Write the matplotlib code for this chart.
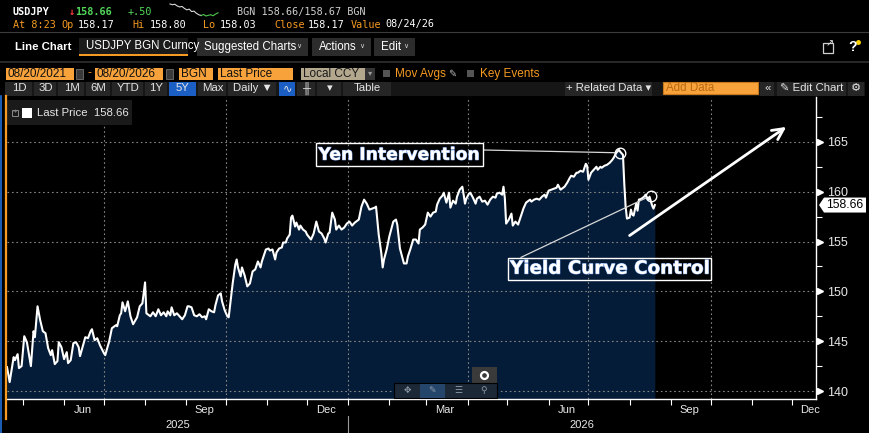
import matplotlib
matplotlib.use("Agg")
import matplotlib.pyplot as plt
import matplotlib.dates as mdates
import matplotlib.patches as mpatches
import matplotlib.transforms as mtransforms
import matplotlib.patheffects as pe
import pandas as pd

# USDJPY BGN Curncy, last price
dates = [
    "2025-04-19", "2025-04-21", "2025-04-24", "2025-04-25", "2025-04-27", "2025-04-28", "2025-04-30",
    "2025-05-02", "2025-05-04", "2025-05-07", "2025-05-09", "2025-05-10", "2025-05-12", "2025-05-14",
    "2025-05-16", "2025-05-18", "2025-05-20", "2025-05-22", "2025-05-23", "2025-05-25", "2025-05-27",
    "2025-05-28", "2025-05-30", "2025-06-01", "2025-06-03", "2025-06-04", "2025-06-06", "2025-06-08",
    "2025-06-10", "2025-06-12", "2025-06-13", "2025-06-17", "2025-06-19", "2025-06-21", "2025-06-22",
    "2025-06-24", "2025-06-26", "2025-06-28", "2025-07-01", "2025-07-02", "2025-07-05", "2025-07-07",
    "2025-07-10", "2025-07-11", "2025-07-13", "2025-07-14", "2025-07-15", "2025-07-17", "2025-07-19",
    "2025-07-21", "2025-07-23", "2025-07-26", "2025-07-28", "2025-07-30", "2025-08-01", "2025-08-02",
    "2025-08-05", "2025-08-07", "2025-08-09", "2025-08-11", "2025-08-13", "2025-08-15", "2025-08-17",
    "2025-08-18", "2025-08-20", "2025-08-21", "2025-08-23", "2025-08-25", "2025-08-27", "2025-08-29",
    "2025-08-31", "2025-09-02", "2025-09-03", "2025-09-05", "2025-09-07", "2025-09-09", "2025-09-11",
    "2025-09-13", "2025-09-15", "2025-09-16", "2025-09-18", "2025-09-20", "2025-09-22", "2025-09-23",
    "2025-09-25", "2025-09-27", "2025-09-28", "2025-09-30", "2025-10-02", "2025-10-03", "2025-10-06",
    "2025-10-08", "2025-10-09", "2025-10-10", "2025-10-12", "2025-10-13", "2025-10-15", "2025-10-17",
    "2025-10-19", "2025-10-21", "2025-10-23", "2025-10-25", "2025-10-27", "2025-10-28", "2025-10-31",
    "2025-11-02", "2025-11-03", "2025-11-05", "2025-11-07", "2025-11-08", "2025-11-10", "2025-11-12",
    "2025-11-13", "2025-11-15", "2025-11-16", "2025-11-18", "2025-11-19", "2025-11-20", "2025-11-22",
    "2025-11-23", "2025-11-25", "2025-11-26", "2025-11-28", "2025-11-30", "2025-12-01", "2025-12-04",
    "2025-12-06", "2025-12-08", "2025-12-10", "2025-12-12", "2025-12-14", "2025-12-15", "2025-12-17",
    "2025-12-18", "2025-12-20", "2025-12-22", "2025-12-23", "2025-12-25", "2025-12-27", "2025-12-29",
    "2025-12-31", "2026-01-02", "2026-01-04", "2026-01-06", "2026-01-08", "2026-01-09", "2026-01-11",
    "2026-01-13", "2026-01-15", "2026-01-17", "2026-01-19", "2026-01-21", "2026-01-22", "2026-01-24",
    "2026-01-26", "2026-01-27", "2026-01-28", "2026-01-30", "2026-02-01", "2026-02-02", "2026-02-04",
    "2026-02-06", "2026-02-07", "2026-02-09", "2026-02-11", "2026-02-12", "2026-02-14", "2026-02-15",
    "2026-02-17", "2026-02-19", "2026-02-21", "2026-02-23", "2026-02-24", "2026-02-26", "2026-02-28",
    "2026-03-02", "2026-03-04", "2026-03-06", "2026-03-08", "2026-03-09", "2026-03-11", "2026-03-13",
    "2026-03-14", "2026-03-16", "2026-03-18", "2026-03-19", "2026-03-21", "2026-03-23", "2026-03-24",
    "2026-03-26", "2026-03-28", "2026-03-29", "2026-03-30", "2026-03-31", "2026-04-02", "2026-04-03",
    "2026-04-05", "2026-04-07", "2026-04-08", "2026-04-10", "2026-04-12", "2026-04-14", "2026-04-16",
    "2026-04-18", "2026-04-20", "2026-04-22", "2026-04-23", "2026-04-25", "2026-04-27", "2026-04-28",
    "2026-04-29", "2026-04-30", "2026-05-02", "2026-05-04", "2026-05-05", "2026-05-07", "2026-05-09",
    "2026-05-11", "2026-05-13", "2026-05-15", "2026-05-18", "2026-05-19", "2026-05-21", "2026-05-23",
    "2026-05-25", "2026-05-27", "2026-05-29", "2026-05-30", "2026-06-01", "2026-06-03", "2026-06-05",
    "2026-06-07", "2026-06-08", "2026-06-10", "2026-06-12", "2026-06-13", "2026-06-15", "2026-06-17",
    "2026-06-18", "2026-06-20", "2026-06-22", "2026-06-23", "2026-06-25", "2026-06-27", "2026-06-29",
    "2026-06-30", "2026-07-01", "2026-07-03", "2026-07-05", "2026-07-07", "2026-07-08", "2026-07-10",
    "2026-07-11", "2026-07-13", "2026-07-15", "2026-07-17", "2026-07-19", "2026-07-20", "2026-07-22",
    "2026-07-24", "2026-07-25", "2026-07-27", "2026-07-28", "2026-07-29", "2026-07-30", "2026-08-01",
    "2026-08-02", "2026-08-03", "2026-08-04", "2026-08-06", "2026-08-07", "2026-08-08", "2026-08-10",
    "2026-08-12", "2026-08-13", "2026-08-15", "2026-08-16", "2026-08-18", "2026-08-19", "2026-08-20",
]
prices = [
    142.4, 140.9, 143.4, 143.1, 143.7, 142.3, 142.5,
    145.5, 144.9, 142.5, 146.0, 145.4, 148.5, 147.1,
    146.0, 145.8, 144.3, 143.6, 144.1, 142.7, 143.0,
    144.9, 144.4, 143.2, 143.9, 142.8, 143.1, 144.8,
    144.9, 144.4, 143.5, 145.4, 145.3, 146.0, 146.2,
    145.1, 145.3, 144.6, 143.8, 143.6, 145.0, 146.3,
    146.6, 146.5, 147.6, 147.8, 148.9, 148.0, 149.0,
    147.5, 146.7, 147.4, 148.5, 148.8, 150.9, 147.8,
    147.5, 147.9, 147.5, 148.2, 147.6, 147.9, 147.5,
    148.0, 147.6, 148.4, 147.6, 147.8, 147.5, 147.2,
    147.6, 148.5, 148.5, 148.4, 147.6, 147.5, 147.7,
    147.4, 147.5, 147.2, 148.2, 148.0, 147.9, 148.6,
    149.6, 149.8, 149.0, 148.1, 147.5, 147.4, 150.8,
    152.7, 153.2, 152.4, 151.5, 152.4, 151.6, 150.5,
    150.8, 152.0, 152.2, 153.0, 152.4, 153.0, 154.2,
    154.3, 154.1, 154.2, 153.2, 153.9, 154.3, 154.4,
    154.9, 154.9, 155.3, 155.7, 157.4, 157.6, 156.5,
    156.9, 156.2, 156.6, 156.2, 156.0, 155.7, 155.2,
    155.8, 157.0, 156.0, 155.8, 155.3, 154.9, 155.8,
    155.9, 157.9, 157.2, 156.2, 156.6, 156.2, 156.4,
    156.8, 157.0, 156.6, 156.9, 157.1, 157.2, 158.5,
    159.2, 158.8, 158.2, 158.3, 158.4, 158.5, 155.7,
    153.8, 152.4, 153.2, 154.2, 155.5, 156.0, 157.0,
    157.2, 156.7, 154.3, 153.3, 152.8, 152.8, 153.5,
    154.3, 155.2, 155.2, 154.8, 156.2, 156.4, 156.7,
    157.9, 157.5, 157.9, 158.0, 158.7, 159.3, 159.6,
    159.9, 158.9, 159.9, 158.4, 159.1, 158.8, 159.5,
    160.2, 160.5, 159.7, 158.8, 159.3, 159.8, 159.9,
    159.4, 158.8, 159.3, 159.5, 159.0, 159.1, 158.7,
    159.2, 159.5, 159.4, 159.8, 159.9, 159.7, 160.5,
    159.4, 156.8, 157.2, 157.8, 156.6, 157.0, 156.7,
    157.5, 158.3, 158.9, 159.2, 159.0, 159.2, 159.3,
    159.2, 159.5, 159.7, 159.4, 160.1, 160.2, 160.3,
    160.4, 160.7, 160.2, 160.4, 160.5, 160.9, 161.4,
    161.6, 161.5, 161.9, 161.9, 162.1, 162.0, 162.8,
    162.6, 161.2, 161.9, 162.2, 162.5, 162.2, 162.5,
    162.4, 162.6, 162.7, 162.9, 163.2, 163.4, 163.9,
    164.2, 164.0, 163.7, 160.8, 158.5, 157.3, 157.4,
    158.2, 157.7, 157.6, 158.8, 158.1, 159.2, 159.3,
    159.5, 159.7, 159.2, 159.5, 158.6, 158.3, 158.66,
]
last_price = 158.66

price_ticks = [140, 145, 150, 155, 160, 165]
month_labels = ["Jun", "Sep", "Dec", "Mar", "Jun", "Sep", "Dec"]
label_days = ["2025-06-15", "2025-09-15", "2025-12-15", "2026-03-15",
              "2026-06-15", "2026-09-15", "2026-12-15"]
quarter_starts = ["2025-07-01", "2025-10-01", "2026-01-01", "2026-04-01",
                  "2026-07-01", "2026-10-01"]
years = ["2025", "2026"]

events = ["Yen Intervention", "Yield Curve Control"]
event_dates = ["2026-07-25", "2026-08-17"]
event_prices = [163.9, 159.6]

# intraday sparkline in the header (relative levels)
spark = [10.0, 9.7, 9.9, 9.2, 8.8, 9.0, 8.2, 7.6, 7.9, 6.9, 7.1, 6.2, 5.6,
         5.3, 5.7, 5.1, 5.4, 5.6, 5.2, 5.9, 6.4]
spark_split = 13

ORANGE = "#f59a23"
NAVY = "#041c38"
GRID = "#858585"
UI = ["Liberation Sans", "DejaVu Sans"]
MONO = ["DejaVu Sans Mono"]

x = pd.to_datetime(dates)
x_left = pd.Timestamp("2025-04-19")
x_right = pd.Timestamp("2026-12-19 10:00")
y_low, y_high = 139.2, 169.5

fig = plt.figure(figsize=(8.7, 4.33), dpi=100, facecolor="black")
ax = fig.add_axes([7 / 870, 34 / 433, 809 / 870, 302 / 433], facecolor="black", zorder=2)
ax.set_xlim(x_left, x_right)
ax.set_ylim(y_low, y_high)

ax.fill_between(x, prices, y_low, color=NAVY, lw=0, zorder=1)
ax.plot(x, prices, color="white", lw=1.5, zorder=4, solid_joinstyle="round")

for p in price_ticks:
    ax.axhline(p, color=GRID, lw=0.8, ls=(0, (1.5, 2.5)), zorder=2)
for q in quarter_starts:
    ax.axvline(pd.Timestamp(q), color=GRID, lw=0.8, ls=(0, (1.5, 2.5)), zorder=2)

# axes styling
for s in ["top", "left"]:
    ax.spines[s].set_visible(False)
for s in ["bottom", "right"]:
    ax.spines[s].set_color("white")
    ax.spines[s].set_linewidth(1.0)

ax.yaxis.tick_right()
ax.set_yticks(price_ticks)
ax.set_yticks([p + 2.5 for p in price_ticks[:-1]] + [167.5], minor=True)
ax.tick_params(axis="y", which="major", length=0, pad=8, labelsize=9, labelcolor="#e8e8e8")
ax.tick_params(axis="y", which="minor", length=4, width=0.8, color="white", direction="out")
for t in ax.get_yticklabels():
    t.set_family(UI)

ax.set_xticks(pd.to_datetime(label_days))
ax.set_xticklabels(month_labels)
ax.set_xticks(pd.date_range("2025-05-01", "2026-12-01", freq="MS"), minor=True)
ax.tick_params(axis="x", which="major", length=0, pad=4.5, labelsize=8, labelcolor="#e8e8e8")
ax.tick_params(axis="x", which="minor", length=4, width=0.8, color="white", direction="out")
for t in ax.get_xticklabels():
    t.set_family(UI)

# triangles on the major price ticks
tri = mtransforms.offset_copy(mtransforms.blended_transform_factory(ax.transAxes, ax.transData),
                              fig=fig, x=2.6, units="points")
ax.plot([1] * len(price_ticks), price_ticks, ls="none", marker=">", ms=4.2,
        color="white", transform=tri, clip_on=False)

# year row under the month labels
jan1 = pd.Timestamp("2026-01-01")
ytr = mtransforms.blended_transform_factory(ax.transData, ax.transAxes)
year_mid = [x_left + (jan1 - x_left) / 2, jan1 + (x_right - jan1) / 2]
for yr, xm in zip(years, year_mid):
    ax.text(xm, -0.086, yr, transform=ytr, ha="center", va="center", fontsize=8,
            color="#e8e8e8", family=UI, clip_on=False)
ax.plot([jan1, jan1], [-0.056, -0.115], transform=ytr, color="#9a9a9a", lw=0.8, clip_on=False)

# event markers and call-outs
ev_x = pd.to_datetime(event_dates)
ax.plot(ev_x, event_prices, ls="none", marker="o", ms=7.6, mfc="none", mec="white", mew=1.0, zorder=6)
glow = [pe.Stroke(linewidth=0.7, foreground="#7aa4ec"), pe.Normal()]
callouts = [
    # text position, font size, box pad, where the leader leaves the box
    ((pd.Timestamp("2026-02-08 18:00"), 163.7), 12.4, 0.14, (1.0, 0.77)),
    ((pd.Timestamp("2026-07-17"), 152.27), 13.2, 0.10, (0.03, 1.0)),
]
for i, (pos, fs, pad, rel) in enumerate(callouts):
    ax.annotate(events[i], xy=(ev_x[i], event_prices[i]), xytext=pos, textcoords="data",
                ha="center", va="center", fontsize=fs, fontweight="bold", color="white",
                family="DejaVu Sans", path_effects=glow, zorder=7,
                bbox=dict(boxstyle=f"square,pad={pad}", fc="none", ec="white", lw=1.0),
                arrowprops=dict(arrowstyle="-", color="#d8d8d8", lw=0.9, shrinkA=0, shrinkB=3.8,
                                relpos=rel))
ax.annotate("", xy=(pd.Timestamp("2026-11-27"), 166.5), xytext=(pd.Timestamp("2026-08-01"), 155.6),
            arrowprops=dict(arrowstyle="->", color="white", lw=2.0, mutation_scale=20,
                            shrinkA=0, shrinkB=0), zorder=7)

# ---- terminal chrome, drawn in pixel coordinates ----
ui = fig.add_axes([0, 0, 1, 1], zorder=3)
ui.set_xlim(0, 870)
ui.set_ylim(433, 0)
ui.axis("off")


def rect(x0, y0, x1, y1, fc, ec="none", lw=0.8):
    r = mpatches.Rectangle((x0, y0), x1 - x0, y1 - y0, facecolor=fc, edgecolor=ec, lw=lw)
    ui.add_patch(r)
    return r


def txt(x0, y0, s, color="white", size=8, ha="left", family=UI, **kw):
    return ui.text(x0, y0, s, color=color, fontsize=size, ha=ha, va="center", family=family, **kw)


# row 1: quote line
txt(13, 12, "USDJPY", size=7.3, family=MONO, fontweight="bold")
txt(69, 12, "↓", color="#ff3b3b", size=7.5, family=MONO, fontweight="bold")
txt(75, 12, "158.66", color="#52d95a", size=7.3, family=MONO, fontweight="bold")
txt(128, 12, "+.50", color="#52d95a", size=7.3, family=MONO)
sx = [170 + i * 48 / (len(spark) - 1) for i in range(len(spark))]
sy = [16 - (v - min(spark)) / (max(spark) - min(spark)) * 12 for v in spark]
ui.plot(sx[:spark_split + 1], sy[:spark_split + 1], color="#d8d8d8", lw=0.8)
ui.plot(sx[spark_split:], sy[spark_split:], color="#4cc94c", lw=0.8)
txt(237, 12, "BGN 158.66/158.67 BGN", color="#cfcfcf", size=7.3, family=MONO)

# row 2: session stats
for xx, s, c in [(13, "At 8:23", ORANGE), (61, "Op", ORANGE), (78, "158.17", "white"),
                 (132, "Hi", ORANGE), (150, "158.80", "white"), (203, "Lo", ORANGE),
                 (220, "158.03", "white"), (274, "Close", ORANGE), (308, "158.17", "white"),
                 (351, "Value", ORANGE), (385, "08/24/26", "white")]:
    txt(xx, 24.5, s, color=c, size=7.3, family=MONO)

ui.plot([0, 870], [32, 32], color="#3c3c3c", lw=0.8)
ui.plot([0, 870], [61.5, 61.5], color="#303030", lw=1.2)

# row 3: chart tabs
txt(15, 47, "Line Chart", size=8.2, fontweight="bold")
tab = rect(79, 38, 188, 55, "#1b1b1b")
rect(79, 54, 188, 55.5, ORANGE)
txt(86, 46.5, "USDJPY BGN Curncy", size=8.3, clip_path=tab)
for x0, x1, s in [(197, 308, "Suggested Charts"), (312, 371, "Actions"), (374, 415, "Edit")]:
    rect(x0, 38, x1, 56, "#2c2c2c")
    txt(x0 + 7, 47, s, size=8.3)
    txt(x1 - 9, 46, "∨", size=5, color="#cfcfcf", ha="center")
rect(823, 43, 833, 53, "none", ec="#d0d0d0", lw=0.9)
txt(830, 43.5, "↗", size=7, color="#e0e0e0", ha="center")
txt(853, 47, "?", size=10, fontweight="bold", ha="center")
ui.plot([858.5], [42], marker="o", ms=2.5, color="#ffd400")

# row 4: range inputs
for x0, x1, s in [(6, 74, "08/20/2021"), (95, 163, "08/20/2026"), (179, 213, "BGN"),
                  (218, 293, "Last Price")]:
    rect(x0, 68, x1, 80, "#f7a23a")
    txt(x0 + 2, 74, s, size=8.5, color="#111111")
for x0 in [76, 166]:
    rect(x0, 69, x0 + 7, 79, "#3a3a3a", ec="#707070", lw=0.6)
txt(89, 73.5, "-", size=8.5, color=ORANGE, ha="center")
rect(301, 68, 365, 80, "#b3a78e")
txt(303, 74, "Local CCY", size=8.5, color="#1a1a1a")
rect(365, 68, 375, 80, "#333333")
txt(370, 74, "▾", size=6, color="#9a9a9a", ha="center")
rect(383, 69.5, 390, 77, "#555555")
txt(395, 73.5, "Mov Avgs", size=8.5, color=ORANGE)
txt(452, 73.5, "✎", size=7, color="#bbbbbb", ha="center", family=["DejaVu Sans"])
rect(467, 69.5, 474, 77, "#555555")
txt(480, 73.5, "Key Events", size=8.5, color=ORANGE)

# row 5: period buttons
rect(5, 81.5, 865, 95.5, "#161616")
cells = [(5, 33, "1D"), (34, 57, "3D"), (58, 85, "1M"), (86, 111, "6M"), (112, 144, "YTD"),
         (145, 168, "1Y"), (169, 197, "5Y"), (198, 227, "Max"), (228, 277, "Daily ▼"),
         (279, 296, "∿"), (297, 316, "╫"), (317, 342, "▾"), (343, 392, "Table"),
         (565, 653, "+ Related Data ▾"), (760, 775, "«"), (777, 847, "✎ Edit Chart"), (848, 865, "⚙")]
for x0, x1, s in cells:
    fc = "#1c5fc4" if s in ("5Y", "∿") else "#262626"
    rect(x0, 81.5, x1 - 0.8, 95.5, fc)
    txt((x0 + x1) / 2, 88, s, size=8.2, color="#e6e6e6", ha="center")
rect(663, 82, 758, 94, "#f7a23a", ec="#c8781a", lw=0.8)
txt(666, 88, "Add Data", size=8.3, color="#b96a12")

# range selector edges
ui.plot([6, 6], [96, 419], color=ORANGE, lw=1.6)
ui.plot([0.8, 0.8], [96, 433], color="#1f6fd6", lw=1.2)

# legend chip
rect(7, 100, 132, 125, "#1a1a1a")
rect(12, 109.5, 18.5, 116, "none", ec="#8a8a8a", lw=0.7)
txt(15.3, 112.6, "+", size=5.5, color="#8a8a8a", ha="center")
rect(22, 108, 32, 118, "white")
txt(37, 113, "Last Price  158.66", size=8.2, color="#e6e6e6")

# last-price tag on the right axis
py = ui.transData.inverted().transform(ax.transData.transform((mdates.date2num(x_right), last_price)))[1]
ui.add_patch(mpatches.Polygon([(819, py), (824, py - 7.5), (866, py - 7.5), (866, py + 7.5), (824, py + 7.5)],
                              closed=True, facecolor="white", edgecolor="none"))
txt(845, py, "158.66", size=8.8, color="black", ha="center")

# small chart toolbar at the bottom
rect(472, 367, 497, 383, "#3a3a3a")
ui.plot([484.5], [375], marker="o", ms=5, mfc="none", mec="white", mew=1.6)
rect(394, 383, 497, 398, "#1c2836", ec="black", lw=0.8)
rect(420, 383.5, 445, 397.5, "#25456a")
for xc, g in [(407, "✥"), (432, "✎"), (458, "☰"), (484, "⚲")]:
    txt(xc, 390.5, g, size=6.5, color="#8f9bab", ha="center", family=["DejaVu Sans"])

fig.savefig("out.png", dpi=100, facecolor="black")
